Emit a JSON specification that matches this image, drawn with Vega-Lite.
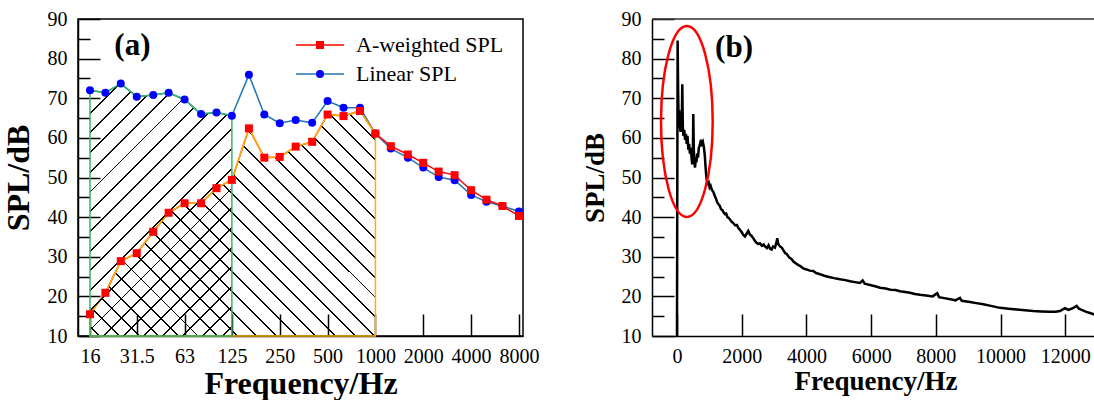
{
  "$schema": "https://vega.github.io/schema/vega-lite/v6.json",
  "padding": {"left": 1, "top": 8, "right": 0, "bottom": 0},
  "background": "white",
  "config": {
    "font": "Liberation Serif",
    "axis": {"domainColor": "black", "domainWidth": 1.5, "tickColor": "black", "tickWidth": 1.5, "labelFontSize": 20, "labelColor": "black", "titleColor": "black", "titleFontWeight": "bold", "grid": false, "labelFont": "Liberation Serif", "titleFont": "Liberation Serif", "labelFlush": false, "labelOverlap": false, "labelBound": false, "zindex": 1},
    "legend": {"labelFont": "Liberation Serif", "labelFontSize": 22, "labelColor": "black"},
    "concat": {"spacing": 41}
  },
  "datasets": {
    "bands": [
      {"f": 16, "s": "Linear SPL", "v": 72.0}, {"f": 20, "s": "Linear SPL", "v": 71.4}, {"f": 25, "s": "Linear SPL", "v": 73.7}, {"f": 31.5, "s": "Linear SPL", "v": 70.4}, {"f": 40, "s": "Linear SPL", "v": 70.8}, {"f": 50, "s": "Linear SPL", "v": 71.4}, {"f": 63, "s": "Linear SPL", "v": 69.7}, {"f": 80, "s": "Linear SPL", "v": 66.0}, {"f": 100, "s": "Linear SPL", "v": 66.4}, {"f": 125, "s": "Linear SPL", "v": 65.6},
      {"f": 160, "s": "Linear SPL", "v": 75.9}, {"f": 200, "s": "Linear SPL", "v": 65.9}, {"f": 250, "s": "Linear SPL", "v": 63.7}, {"f": 315, "s": "Linear SPL", "v": 64.5}, {"f": 400, "s": "Linear SPL", "v": 63.8}, {"f": 500, "s": "Linear SPL", "v": 69.3}, {"f": 630, "s": "Linear SPL", "v": 67.6}, {"f": 800, "s": "Linear SPL", "v": 67.6}, {"f": 1000, "s": "Linear SPL", "v": 61.1},
      {"f": 1250, "s": "Linear SPL", "v": 57.3}, {"f": 1600, "s": "Linear SPL", "v": 55.0}, {"f": 2000, "s": "Linear SPL", "v": 52.5}, {"f": 2500, "s": "Linear SPL", "v": 50.1}, {"f": 3150, "s": "Linear SPL", "v": 49.3}, {"f": 4000, "s": "Linear SPL", "v": 45.6}, {"f": 5000, "s": "Linear SPL", "v": 43.9}, {"f": 6300, "s": "Linear SPL", "v": 42.8}, {"f": 8000, "s": "Linear SPL", "v": 41.4},
      {"f": 16, "s": "A-weighted SPL", "v": 15.5}, {"f": 20, "s": "A-weighted SPL", "v": 20.9}, {"f": 25, "s": "A-weighted SPL", "v": 28.9}, {"f": 31.5, "s": "A-weighted SPL", "v": 30.9}, {"f": 40, "s": "A-weighted SPL", "v": 36.3}, {"f": 50, "s": "A-weighted SPL", "v": 41.1}, {"f": 63, "s": "A-weighted SPL", "v": 43.5}, {"f": 80, "s": "A-weighted SPL", "v": 43.5}, {"f": 100, "s": "A-weighted SPL", "v": 47.3}, {"f": 125, "s": "A-weighted SPL", "v": 49.4},
      {"f": 160, "s": "A-weighted SPL", "v": 62.4}, {"f": 200, "s": "A-weighted SPL", "v": 55.0}, {"f": 250, "s": "A-weighted SPL", "v": 55.2}, {"f": 315, "s": "A-weighted SPL", "v": 57.8}, {"f": 400, "s": "A-weighted SPL", "v": 59.0}, {"f": 500, "s": "A-weighted SPL", "v": 65.9}, {"f": 630, "s": "A-weighted SPL", "v": 65.5}, {"f": 800, "s": "A-weighted SPL", "v": 66.8}, {"f": 1000, "s": "A-weighted SPL", "v": 61.1},
      {"f": 1250, "s": "A-weighted SPL", "v": 57.9}, {"f": 1600, "s": "A-weighted SPL", "v": 55.8}, {"f": 2000, "s": "A-weighted SPL", "v": 53.7}, {"f": 2500, "s": "A-weighted SPL", "v": 51.5}, {"f": 3150, "s": "A-weighted SPL", "v": 50.6}, {"f": 4000, "s": "A-weighted SPL", "v": 46.8}, {"f": 5000, "s": "A-weighted SPL", "v": 44.4}, {"f": 6300, "s": "A-weighted SPL", "v": 42.8}, {"f": 8000, "s": "A-weighted SPL", "v": 40.3}
    ],
    "spec": [
      {"f": 0, "v": 10}, {"f": 20, "v": 84.6}, {"f": 35, "v": 72}, {"f": 50, "v": 64.5}, {"f": 70, "v": 67}, {"f": 90, "v": 63}, {"f": 110, "v": 61.5}, {"f": 130, "v": 63}, {"f": 150, "v": 65}, {"f": 164, "v": 73.5},
      {"f": 180, "v": 63}, {"f": 200, "v": 60.5}, {"f": 225, "v": 62}, {"f": 250, "v": 59.5}, {"f": 275, "v": 61}, {"f": 300, "v": 58.5}, {"f": 325, "v": 60.5}, {"f": 350, "v": 57}, {"f": 375, "v": 58.5}, {"f": 400, "v": 56},
      {"f": 425, "v": 57.5}, {"f": 450, "v": 55}, {"f": 470, "v": 53.3}, {"f": 490, "v": 56}, {"f": 504, "v": 66}, {"f": 520, "v": 57}, {"f": 540, "v": 54}, {"f": 556, "v": 52.5}, {"f": 580, "v": 54.5}, {"f": 600, "v": 53.8},
      {"f": 625, "v": 56}, {"f": 650, "v": 55}, {"f": 675, "v": 57.5}, {"f": 700, "v": 58}, {"f": 742, "v": 59.5}, {"f": 770, "v": 58.5}, {"f": 800, "v": 59}, {"f": 834, "v": 57.5}, {"f": 860, "v": 55.5}, {"f": 880, "v": 53},
      {"f": 900, "v": 50.8}, {"f": 917, "v": 49.5}, {"f": 950, "v": 48.5}, {"f": 980, "v": 48.8}, {"f": 1010, "v": 47.5}, {"f": 1040, "v": 47.9}, {"f": 1080, "v": 46.8}, {"f": 1123, "v": 46.4}, {"f": 1160, "v": 45.5}, {"f": 1200, "v": 44.8},
      {"f": 1240, "v": 43.8}, {"f": 1277, "v": 43.3}, {"f": 1320, "v": 42.9}, {"f": 1360, "v": 42}, {"f": 1400, "v": 41.8}, {"f": 1432, "v": 41.3}, {"f": 1480, "v": 40.8}, {"f": 1520, "v": 40.9}, {"f": 1560, "v": 40}, {"f": 1600, "v": 39.8},
      {"f": 1650, "v": 39.3}, {"f": 1690, "v": 38.8}, {"f": 1740, "v": 38.5}, {"f": 1800, "v": 37.9}, {"f": 1850, "v": 38}, {"f": 1900, "v": 37.2}, {"f": 1947, "v": 36.8}, {"f": 2000, "v": 36.2}, {"f": 2050, "v": 35.5}, {"f": 2101, "v": 35.1},
      {"f": 2150, "v": 35.8}, {"f": 2204, "v": 36.5}, {"f": 2250, "v": 35.6}, {"f": 2300, "v": 35.3}, {"f": 2358, "v": 34.7}, {"f": 2400, "v": 34.1}, {"f": 2450, "v": 33.6}, {"f": 2512, "v": 33.2}, {"f": 2560, "v": 33.4}, {"f": 2620, "v": 32.8},
      {"f": 2680, "v": 33.1}, {"f": 2719, "v": 32.6}, {"f": 2780, "v": 32.2}, {"f": 2830, "v": 32.9}, {"f": 2880, "v": 32}, {"f": 2925, "v": 31.8}, {"f": 2970, "v": 32.6}, {"f": 3028, "v": 32.3}, {"f": 3070, "v": 33.5}, {"f": 3100, "v": 34.7},
      {"f": 3130, "v": 33.2}, {"f": 3183, "v": 32.6}, {"f": 3240, "v": 32.3}, {"f": 3290, "v": 31.6}, {"f": 3337, "v": 31}, {"f": 3400, "v": 30.6}, {"f": 3460, "v": 29.9}, {"f": 3544, "v": 29.4}, {"f": 3600, "v": 28.8}, {"f": 3680, "v": 28.3},
      {"f": 3750, "v": 27.9}, {"f": 3801, "v": 27.7}, {"f": 3880, "v": 27.2}, {"f": 3950, "v": 26.9}, {"f": 4008, "v": 26.8}, {"f": 4100, "v": 26.5}, {"f": 4212, "v": 26.4}, {"f": 4300, "v": 25.9}, {"f": 4419, "v": 25.6}, {"f": 4550, "v": 25.2},
      {"f": 4700, "v": 24.9}, {"f": 4850, "v": 24.6}, {"f": 5037, "v": 24.3}, {"f": 5200, "v": 24.1}, {"f": 5350, "v": 23.8}, {"f": 5500, "v": 23.6}, {"f": 5655, "v": 23.4}, {"f": 5738, "v": 24}, {"f": 5800, "v": 23.2}, {"f": 6000, "v": 22.8},
      {"f": 6150, "v": 22.5}, {"f": 6273, "v": 22.2}, {"f": 6450, "v": 22}, {"f": 6600, "v": 21.7}, {"f": 6750, "v": 21.6}, {"f": 6891, "v": 21.3}, {"f": 7050, "v": 21.1}, {"f": 7200, "v": 20.9}, {"f": 7350, "v": 20.6}, {"f": 7509, "v": 20.4},
      {"f": 7700, "v": 20.2}, {"f": 7900, "v": 20}, {"f": 8044, "v": 20.8}, {"f": 8100, "v": 19.8}, {"f": 8300, "v": 19.5}, {"f": 8436, "v": 19.3}, {"f": 8600, "v": 19}, {"f": 8745, "v": 19.6}, {"f": 8800, "v": 18.9}, {"f": 9054, "v": 18.6},
      {"f": 9250, "v": 18.3}, {"f": 9466, "v": 18}, {"f": 9700, "v": 17.6}, {"f": 9981, "v": 17.1}, {"f": 10250, "v": 16.9}, {"f": 10497, "v": 16.7}, {"f": 10750, "v": 16.5}, {"f": 11010, "v": 16.3}, {"f": 11250, "v": 16.2}, {"f": 11526, "v": 16.1},
      {"f": 11700, "v": 16.1}, {"f": 11835, "v": 16.3}, {"f": 11990, "v": 17}, {"f": 12100, "v": 16.6}, {"f": 12250, "v": 17.1}, {"f": 12351, "v": 17.6}, {"f": 12420, "v": 16.9}, {"f": 12505, "v": 16.6}, {"f": 12650, "v": 16.1}, {"f": 12763, "v": 15.8}, {"f": 12900, "v": 15.4}, {"f": 13050, "v": 15.2}
    ]
  },
  "hconcat": [
    {
      "width": 445,
      "height": 317,
      "view": {"stroke": "black", "strokeWidth": 1.5},
      "resolve": {"axis": {"y": "independent"}},
      "layer": [
        {
          "data": {"name": "bands"},
          "mark": {"type": "line", "strokeWidth": 1.5},
          "encoding": {
            "x": {"field": "f", "type": "quantitative", "title": "Frequency/Hz",
              "scale": {"type": "log", "domain": [13.45, 8483], "nice": false},
              "axis": {"values": [16, 31.5, 63, 125, 250, 500, 1000, 2000, 4000, 8000], "labelExpr": "'' + datum.value", "tickSize": -22, "labelPadding": 32, "titlePadding": 2, "titleFontSize": 32, "labelOverlap": false}},
            "y": {"field": "v", "type": "quantitative", "title": "SPL/dB",
              "scale": {"domain": [10, 90], "nice": false, "zero": false},
              "axis": {"orient": "left", "values": [10, 20, 30, 40, 50, 60, 70, 80, 90], "tickSize": -22, "labelPadding": 33, "titlePadding": 12, "titleFontSize": 32, "labelOverlap": false, "labelSeparation": -30}},
            "stroke": {"field": "s", "type": "nominal",
              "scale": {"domain": ["A-weighted SPL", "Linear SPL"], "range": ["#ff0000", "#1f78b4"]},
              "legend": {"title": null, "orient": "none", "legendX": 231, "legendY": 15, "padding": 0, "symbolType": "M-6,0H6", "symbolSize": 64, "symbolStrokeWidth": 1.5, "labelOffset": 25, "rowPadding": 7}}
          }
        },
        {
          "data": {"name": "bands"},
          "transform": [{"filter": "datum.s === 'A-weighted SPL' && datum.f <= 1000"}],
          "mark": {"type": "area", "stroke": "#ffb000", "strokeWidth": 1.5,
            "fill": {"gradient": "linear", "x1": 1, "y1": 0, "x2": -0.1027, "y2": 0.8697, "stops": [
              {"offset": 0.01731, "color": "transparent"}, {"offset": 0.01731, "color": "black"}, {"offset": 0.02115, "color": "black"}, {"offset": 0.02115, "color": "transparent"},
              {"offset": 0.05577, "color": "transparent"}, {"offset": 0.05577, "color": "black"}, {"offset": 0.05962, "color": "black"}, {"offset": 0.05962, "color": "transparent"},
              {"offset": 0.09423, "color": "transparent"}, {"offset": 0.09423, "color": "black"}, {"offset": 0.09808, "color": "black"}, {"offset": 0.09808, "color": "transparent"},
              {"offset": 0.13269, "color": "transparent"}, {"offset": 0.13269, "color": "black"}, {"offset": 0.13654, "color": "black"}, {"offset": 0.13654, "color": "transparent"},
              {"offset": 0.17115, "color": "transparent"}, {"offset": 0.17115, "color": "black"}, {"offset": 0.175, "color": "black"}, {"offset": 0.175, "color": "transparent"},
              {"offset": 0.20962, "color": "transparent"}, {"offset": 0.20962, "color": "black"}, {"offset": 0.21346, "color": "black"}, {"offset": 0.21346, "color": "transparent"},
              {"offset": 0.24808, "color": "transparent"}, {"offset": 0.24808, "color": "black"}, {"offset": 0.25192, "color": "black"}, {"offset": 0.25192, "color": "transparent"},
              {"offset": 0.28654, "color": "transparent"}, {"offset": 0.28654, "color": "black"}, {"offset": 0.29038, "color": "black"}, {"offset": 0.29038, "color": "transparent"},
              {"offset": 0.325, "color": "transparent"}, {"offset": 0.325, "color": "black"}, {"offset": 0.32885, "color": "black"}, {"offset": 0.32885, "color": "transparent"},
              {"offset": 0.36346, "color": "transparent"}, {"offset": 0.36346, "color": "black"}, {"offset": 0.36731, "color": "black"}, {"offset": 0.36731, "color": "transparent"},
              {"offset": 0.40192, "color": "transparent"}, {"offset": 0.40192, "color": "black"}, {"offset": 0.40577, "color": "black"}, {"offset": 0.40577, "color": "transparent"},
              {"offset": 0.44038, "color": "transparent"}, {"offset": 0.44038, "color": "black"}, {"offset": 0.44423, "color": "black"}, {"offset": 0.44423, "color": "transparent"},
              {"offset": 0.47885, "color": "transparent"}, {"offset": 0.47885, "color": "black"}, {"offset": 0.48269, "color": "black"}, {"offset": 0.48269, "color": "transparent"},
              {"offset": 0.51731, "color": "transparent"}, {"offset": 0.51731, "color": "black"}, {"offset": 0.52115, "color": "black"}, {"offset": 0.52115, "color": "transparent"},
              {"offset": 0.55577, "color": "transparent"}, {"offset": 0.55577, "color": "black"}, {"offset": 0.55962, "color": "black"}, {"offset": 0.55962, "color": "transparent"},
              {"offset": 0.59423, "color": "transparent"}, {"offset": 0.59423, "color": "black"}, {"offset": 0.59808, "color": "black"}, {"offset": 0.59808, "color": "transparent"},
              {"offset": 0.63269, "color": "transparent"}, {"offset": 0.63269, "color": "black"}, {"offset": 0.63654, "color": "black"}, {"offset": 0.63654, "color": "transparent"},
              {"offset": 0.67115, "color": "transparent"}, {"offset": 0.67115, "color": "black"}, {"offset": 0.675, "color": "black"}, {"offset": 0.675, "color": "transparent"},
              {"offset": 0.70962, "color": "transparent"}, {"offset": 0.70962, "color": "black"}, {"offset": 0.71346, "color": "black"}, {"offset": 0.71346, "color": "transparent"},
              {"offset": 0.74808, "color": "transparent"}, {"offset": 0.74808, "color": "black"}, {"offset": 0.75192, "color": "black"}, {"offset": 0.75192, "color": "transparent"},
              {"offset": 0.78654, "color": "transparent"}, {"offset": 0.78654, "color": "black"}, {"offset": 0.79038, "color": "black"}, {"offset": 0.79038, "color": "transparent"},
              {"offset": 0.825, "color": "transparent"}, {"offset": 0.825, "color": "black"}, {"offset": 0.82885, "color": "black"}, {"offset": 0.82885, "color": "transparent"},
              {"offset": 0.86346, "color": "transparent"}, {"offset": 0.86346, "color": "black"}, {"offset": 0.86731, "color": "black"}, {"offset": 0.86731, "color": "transparent"},
              {"offset": 0.90192, "color": "transparent"}, {"offset": 0.90192, "color": "black"}, {"offset": 0.90577, "color": "black"}, {"offset": 0.90577, "color": "transparent"},
              {"offset": 0.94038, "color": "transparent"}, {"offset": 0.94038, "color": "black"}, {"offset": 0.94423, "color": "black"}, {"offset": 0.94423, "color": "transparent"},
              {"offset": 0.97885, "color": "transparent"}, {"offset": 0.97885, "color": "black"}, {"offset": 0.98269, "color": "black"}, {"offset": 0.98269, "color": "transparent"}
            ]}},
          "encoding": {
            "x": {"field": "f", "type": "quantitative"},
            "y": {"field": "v", "type": "quantitative", "axis": {"orient": "left", "values": [15, 25, 35, 45, 55, 65, 75, 85], "tickSize": -12, "labels": false, "domain": false, "title": null}},
            "y2": {"datum": 10}
          }
        },
        {
          "data": {"name": "bands"},
          "transform": [{"filter": "datum.s === 'Linear SPL' && datum.f <= 125"}],
          "mark": {"type": "area", "stroke": "#33b86a", "strokeWidth": 1.5,
            "fill": {"gradient": "linear", "x1": 0, "y1": 0, "x2": 0.6673, "y2": 1.187, "stops": [
              {"offset": 0.0225, "color": "transparent"}, {"offset": 0.0225, "color": "black"}, {"offset": 0.0275, "color": "black"}, {"offset": 0.0275, "color": "transparent"},
              {"offset": 0.0725, "color": "transparent"}, {"offset": 0.0725, "color": "black"}, {"offset": 0.0775, "color": "black"}, {"offset": 0.0775, "color": "transparent"},
              {"offset": 0.1225, "color": "transparent"}, {"offset": 0.1225, "color": "black"}, {"offset": 0.1275, "color": "black"}, {"offset": 0.1275, "color": "transparent"},
              {"offset": 0.1725, "color": "transparent"}, {"offset": 0.1725, "color": "black"}, {"offset": 0.1775, "color": "black"}, {"offset": 0.1775, "color": "transparent"},
              {"offset": 0.2225, "color": "transparent"}, {"offset": 0.2225, "color": "black"}, {"offset": 0.2275, "color": "black"}, {"offset": 0.2275, "color": "transparent"},
              {"offset": 0.2725, "color": "transparent"}, {"offset": 0.2725, "color": "black"}, {"offset": 0.2775, "color": "black"}, {"offset": 0.2775, "color": "transparent"},
              {"offset": 0.3225, "color": "transparent"}, {"offset": 0.3225, "color": "black"}, {"offset": 0.3275, "color": "black"}, {"offset": 0.3275, "color": "transparent"},
              {"offset": 0.3725, "color": "transparent"}, {"offset": 0.3725, "color": "black"}, {"offset": 0.3775, "color": "black"}, {"offset": 0.3775, "color": "transparent"},
              {"offset": 0.4225, "color": "transparent"}, {"offset": 0.4225, "color": "black"}, {"offset": 0.4275, "color": "black"}, {"offset": 0.4275, "color": "transparent"},
              {"offset": 0.4725, "color": "transparent"}, {"offset": 0.4725, "color": "black"}, {"offset": 0.4775, "color": "black"}, {"offset": 0.4775, "color": "transparent"},
              {"offset": 0.5225, "color": "transparent"}, {"offset": 0.5225, "color": "black"}, {"offset": 0.5275, "color": "black"}, {"offset": 0.5275, "color": "transparent"},
              {"offset": 0.5725, "color": "transparent"}, {"offset": 0.5725, "color": "black"}, {"offset": 0.5775, "color": "black"}, {"offset": 0.5775, "color": "transparent"},
              {"offset": 0.6225, "color": "transparent"}, {"offset": 0.6225, "color": "black"}, {"offset": 0.6275, "color": "black"}, {"offset": 0.6275, "color": "transparent"},
              {"offset": 0.6725, "color": "transparent"}, {"offset": 0.6725, "color": "black"}, {"offset": 0.6775, "color": "black"}, {"offset": 0.6775, "color": "transparent"},
              {"offset": 0.7225, "color": "transparent"}, {"offset": 0.7225, "color": "black"}, {"offset": 0.7275, "color": "black"}, {"offset": 0.7275, "color": "transparent"},
              {"offset": 0.7725, "color": "transparent"}, {"offset": 0.7725, "color": "black"}, {"offset": 0.7775, "color": "black"}, {"offset": 0.7775, "color": "transparent"},
              {"offset": 0.8225, "color": "transparent"}, {"offset": 0.8225, "color": "black"}, {"offset": 0.8275, "color": "black"}, {"offset": 0.8275, "color": "transparent"},
              {"offset": 0.8725, "color": "transparent"}, {"offset": 0.8725, "color": "black"}, {"offset": 0.8775, "color": "black"}, {"offset": 0.8775, "color": "transparent"},
              {"offset": 0.9225, "color": "transparent"}, {"offset": 0.9225, "color": "black"}, {"offset": 0.9275, "color": "black"}, {"offset": 0.9275, "color": "transparent"},
              {"offset": 0.9725, "color": "transparent"}, {"offset": 0.9725, "color": "black"}, {"offset": 0.9775, "color": "black"}, {"offset": 0.9775, "color": "transparent"}
            ]}},
          "encoding": {
            "x": {"field": "f", "type": "quantitative"},
            "y": {"field": "v", "type": "quantitative", "axis": null},
            "y2": {"datum": 10}
          }
        },
        {
          "data": {"name": "bands"},
          "mark": {"type": "point", "filled": true, "size": 64, "opacity": 1},
          "encoding": {
            "x": {"field": "f", "type": "quantitative"},
            "y": {"field": "v", "type": "quantitative", "axis": null},
            "fill": {"field": "s", "type": "nominal", "scale": {"range": ["#ff0000", "#0000ff"]},
              "legend": {"title": null, "orient": "none", "legendX": 231, "legendY": 15, "padding": 0, "symbolSize": 64, "labelOffset": 25, "rowPadding": 7, "labelOpacity": 0}},
            "shape": {"field": "s", "type": "nominal", "scale": {"range": ["square", "circle"]},
              "legend": {"title": null, "orient": "none", "legendX": 231, "legendY": 15, "padding": 0, "symbolSize": 64, "labelOffset": 25, "rowPadding": 7, "labelOpacity": 0}}
          }
        },
        {
          "data": {"values": [{}]},
          "mark": {"type": "text", "text": "(a)", "fontSize": 31, "fontWeight": "bold", "font": "Liberation Serif", "color": "black", "baseline": "middle", "align": "center"},
          "encoding": {"x": {"datum": 29.6}, "y": {"datum": 83.06, "axis": null}}
        }
      ]
    },
    {
      "width": 447,
      "height": 317,
      "view": {"stroke": null},
      "resolve": {"axis": {"y": "independent"}},
      "layer": [
        {
          "data": {"name": "spec"},
          "mark": {"type": "line", "color": "black", "strokeWidth": 2.5, "clip": true},
          "encoding": {
            "x": {"field": "f", "type": "quantitative", "title": "Frequency/Hz",
              "scale": {"domain": [-772, 13041], "nice": false, "zero": false},
              "axis": {"values": [0, 1000, 2000, 3000, 4000, 5000, 6000, 7000, 8000, 9000, 10000, 11000, 12000], "labelExpr": "datum.value % 2000 === 0 ? '' + datum.value : ''", "labelFontSize": {"condition": {"test": "datum.value % 2000 !== 0", "value": 0}, "value": 20}, "tickSize": {"condition": {"test": "datum.value % 2000 === 0", "value": -22}, "value": -11}, "labelPadding": 32, "titlePadding": 2, "titleFontSize": 27, "labelOverlap": false}},
            "y": {"field": "v", "type": "quantitative", "title": "SPL/dB",
              "scale": {"domain": [10, 90], "nice": false, "zero": false},
              "axis": {"orient": "left", "values": [10, 20, 30, 40, 50, 60, 70, 80, 90], "tickSize": -22, "labelPadding": 33, "titlePadding": 12, "titleFontSize": 27, "labelOverlap": false, "labelSeparation": -30}}
          }
        },
        {
          "data": {"values": [{}]},
          "mark": {"type": "rule", "color": "#333333", "strokeWidth": 1.5},
          "encoding": {"y": {"datum": 90, "axis": {"orient": "left", "values": [15, 25, 35, 45, 55, 65, 75, 85], "tickSize": -12, "labels": false, "domain": false, "title": null}}}
        },
        {
          "data": {"values": [{}]},
          "mark": {"type": "point", "shape": "M-0.2707,0A0.2707,1 0 1,0 0.2707,0A0.2707,1 0 1,0 -0.2707,0Z", "size": 36481, "filled": false, "stroke": "#ff0000", "strokeWidth": 2.5, "opacity": 1},
          "encoding": {"x": {"datum": 305}, "y": {"datum": 64.13, "axis": null}}
        },
        {
          "data": {"values": [{}]},
          "mark": {"type": "text", "text": "(b)", "fontSize": 31, "fontWeight": "bold", "font": "Liberation Serif", "color": "black", "baseline": "middle", "align": "center"},
          "encoding": {"x": {"datum": 1762}, "y": {"datum": 82.7, "axis": null}}
        }
      ]
    }
  ]
}
